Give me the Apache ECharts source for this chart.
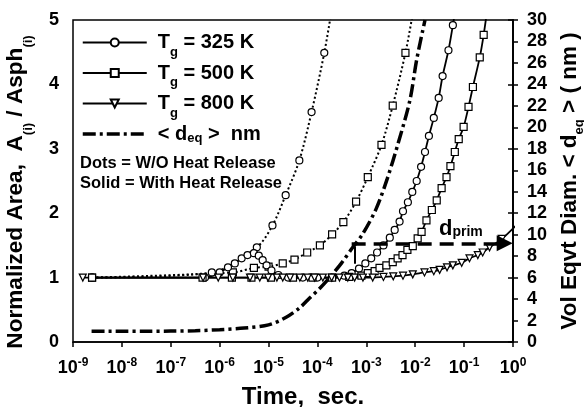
<!DOCTYPE html>
<html>
<head>
<meta charset="utf-8">
<script src="https://cdn.jsdelivr.net/npm/echarts@6/dist/echarts.min.js"></script>
<style>
  html, body { margin: 0; padding: 0; background: #fff; }
  #chart { width: 584px; height: 407px; }
</style>
</head>
<body>
<div id="chart"></div>
<script>
// x values are log10(time / s), y values are A(i)/Asph(i)
const tg325Solid = [
  [-8.61, 1.0], [-6.3, 1.0], [-6.0, 1.08], [-5.83, 1.16], [-5.69, 1.22], [-5.55, 1.3], [-5.43, 1.35],
  [-5.3, 1.38], [-5.2, 1.34], [-5.12, 1.27], [-5.04, 1.19], [-4.94, 1.11], [-4.8, 1.04], [-4.6, 1.0],
  [-4.3, 1.0], [-4.0, 1.0], [-3.7, 1.0], [-3.45, 1.03], [-3.3, 1.07], [-3.15, 1.14], [-3.02, 1.22],
  [-2.9, 1.3], [-2.78, 1.39], [-2.65, 1.5], [-2.52, 1.62], [-2.42, 1.74], [-2.32, 1.87], [-2.25, 2.03],
  [-2.15, 2.17], [-2.06, 2.33], [-1.97, 2.5], [-1.88, 2.72], [-1.8, 2.95], [-1.72, 3.2], [-1.62, 3.48],
  [-1.52, 3.79], [-1.44, 4.13], [-1.32, 4.53], [-1.23, 4.92], [-1.15, 5.3]
]
const tg500Solid = [
  [-8.61, 1.0], [-6.35, 1.0], [-5.75, 1.0], [-5.35, 1.0], [-4.95, 1.0], [-4.5, 1.0], [-4.1, 1.0],
  [-3.7, 1.0], [-3.35, 1.01], [-3.1, 1.03], [-2.97, 1.07], [-2.83, 1.1], [-2.73, 1.15], [-2.59, 1.19],
  [-2.46, 1.24], [-2.36, 1.3], [-2.26, 1.35], [-2.16, 1.43], [-2.05, 1.49], [-1.95, 1.61], [-1.87, 1.71],
  [-1.77, 1.89], [-1.66, 2.05], [-1.56, 2.2], [-1.46, 2.39], [-1.36, 2.56], [-1.28, 2.73], [-1.19, 2.95],
  [-1.11, 3.15], [-1.01, 3.34], [-0.91, 3.65], [-0.82, 3.96], [-0.68, 4.42], [-0.6, 4.77], [-0.52, 5.2]
]
const tg800Solid = [
  [-8.8, 1.0], [-6.34, 1.0], [-6.03, 1.0], [-5.73, 1.0], [-5.38, 1.0], [-5.18, 1.0], [-5.01, 1.0],
  [-4.83, 1.0], [-4.71, 1.0], [-4.56, 1.0], [-4.36, 1.0], [-4.2, 1.0], [-4.06, 1.0], [-3.89, 1.0],
  [-3.71, 1.0], [-3.55, 1.0], [-3.38, 1.0], [-3.24, 1.0], [-3.07, 1.0], [-2.87, 1.0], [-2.65, 1.01],
  [-2.45, 1.02], [-2.25, 1.03], [-2.05, 1.05], [-1.81, 1.08], [-1.62, 1.1], [-1.5, 1.12], [-1.35, 1.16],
  [-1.23, 1.19], [-1.05, 1.23], [-0.89, 1.3], [-0.72, 1.35], [-0.62, 1.39], [-0.48, 1.47], [-0.23, 1.6],
  [0.1, 1.84]
]
// without heat release (dotted)
const tg325Dots = [
  [-8.61, 1.0], [-6.16, 1.08], [-5.24, 1.47], [-4.92, 1.81], [-4.65, 2.28], [-4.37, 2.82],
  [-4.12, 3.57], [-3.86, 4.49], [-3.7, 5.2]
]
const tg500Dots = [
  [-8.61, 1.0], [-5.73, 1.08], [-5.3, 1.15], [-5.0, 1.17], [-4.71, 1.22], [-4.47, 1.28], [-4.21, 1.39],
  [-3.95, 1.5], [-3.7, 1.67], [-3.47, 1.86], [-3.21, 2.18], [-2.97, 2.56], [-2.69, 3.06], [-2.46, 3.67],
  [-2.2, 4.49], [-2.05, 5.1]
]
// <d_eq> in nm, right axis
const deqNm = [
  [-8.62, 1.0], [-8, 1.0], [-7.5, 1.0], [-7, 1.02], [-6.5, 1.05], [-6, 1.15], [-5.5, 1.3], [-5, 1.6],
  [-4.64, 2.3], [-4.36, 3.2], [-4.16, 4.1], [-3.95, 5.0], [-3.75, 6.0], [-3.5, 7.4], [-3.28, 8.8],
  [-3.07, 10.1], [-2.8, 12.4], [-2.58, 15.1], [-2.35, 18.5], [-2.11, 22.5], [-1.97, 26.3], [-1.8, 30]
]
// d_prim arrow (nm) and its marker
const dprimNm = 9.2
const dprimFrom = -3.3
const dprimTo = -0.17
const dprimTick = [-3.24, 7.3, 8.9]

const legendNames = ['T325', 'T500', 'T800', 'deq']
const legendText = {
  T325: '{n|T}{g|g}{n| = 325 K}',
  T500: '{n|T}{g|g}{n| = 500 K}',
  T800: '{n|T}{g|g}{n| = 800 K}',
  deq: '{n|< d}{e|eq}{n| >  nm}'
}

const FONT = '"Liberation Sans", Arial, sans-serif'
const BLACK = '#000'

var chart = echarts.init(document.getElementById('chart'))

var axisLine = { show: true, lineStyle: { color: BLACK, width: 1.5 } }
var axisTick = { show: true, inside: false, length: 5, lineStyle: { color: BLACK, width: 1.5 } }
var tickFont = { fontFamily: FONT, fontWeight: 'bold', fontSize: 18, color: BLACK }

function nameRich(size, drop) {
  return {
    n: { fontFamily: FONT, fontWeight: 'bold', fontSize: size, lineHeight: size, padding: [0, 0, 11, 0], verticalAlign: 'top', color: BLACK },
    s: { fontFamily: FONT, fontWeight: 'bold', fontSize: 13, lineHeight: 13, padding: [drop, 0, size - 2 - drop, 0], verticalAlign: 'top', color: BLACK }
  }
}

function solid(name, data, symbol, rotate) {
  return {
    name: name,
    type: 'line',
    data: data,
    smooth: 0.3,
    symbol: symbol,
    symbolSize: 7,
    symbolRotate: rotate || 0,
    showSymbol: true,
    itemStyle: { color: '#fff', borderColor: BLACK, borderWidth: 1.2 },
    lineStyle: { color: BLACK, width: 1.8 }
  }
}

function dotted(name, data, symbol) {
  return {
    name: name,
    type: 'line',
    data: data,
    smooth: 0.3,
    symbol: symbol,
    symbolSize: 7,
    showSymbol: true,
    itemStyle: { color: '#fff', borderColor: BLACK, borderWidth: 1.2 },
    lineStyle: { color: BLACK, width: 2, type: [2, 2.5] }
  }
}

chart.setOption({
  animation: false,
  backgroundColor: '#fff',
  grid: {
    left: 73, right: 71, top: 20, bottom: 65,
    outerBoundsMode: 'none',
    show: true, borderColor: BLACK, borderWidth: 1.5
  },
  legend: {
    data: legendNames,
    left: 81,
    top: 32.5,
    padding: 0,
    orient: 'vertical',
    itemWidth: 64,
    itemHeight: 10,
    itemGap: 4.5,
    selectedMode: false,
    lineStyle: { width: 'inherit' },
    formatter: function (name) { return legendText[name] },
    textStyle: {
      padding: [0, 0, 0, 6],
      rich: {
        n: { fontFamily: FONT, fontWeight: 'bold', fontSize: 20, lineHeight: 20, padding: [0, 0, 6, 0], verticalAlign: 'top', color: BLACK },
        g: { fontFamily: FONT, fontWeight: 'bold', fontSize: 13, lineHeight: 13, padding: [13, 0, 0, 0], verticalAlign: 'top', color: BLACK },
        e: { fontFamily: FONT, fontWeight: 'bold', fontSize: 13, lineHeight: 13, padding: [8, 0, 5, 0], verticalAlign: 'top', color: BLACK }
      }
    }
  },
  xAxis: {
    type: 'value',
    min: -9,
    max: 0,
    interval: 1,
    name: 'Time,  sec.',
    nameLocation: 'middle',
    nameGap: 43,
    nameTextStyle: { fontFamily: FONT, fontWeight: 'bold', fontSize: 24, color: BLACK, padding: [0, 0, 0, 20] },
    axisLine: axisLine,
    axisTick: axisTick,
    splitLine: { show: false },
    axisLabel: {
      margin: 15,
      formatter: function (v) { return '{b|10}{p|' + v + '}' },
      rich: {
        b: { fontFamily: FONT, fontWeight: 'bold', fontSize: 18, lineHeight: 20, verticalAlign: 'bottom', color: BLACK },
        p: { fontFamily: FONT, fontWeight: 'bold', fontSize: 12, lineHeight: 12, verticalAlign: 'top', color: BLACK }
      }
    }
  },
  yAxis: [
    {
      type: 'value',
      position: 'left',
      min: 0,
      max: 5,
      interval: 1,
      name: '{n|Normalized Area,  A}{s|(i)}{n| / Asph}{s|(i)}',
      nameLocation: 'middle',
      nameRotate: 90,
      nameGap: 27,
      nameTextStyle: { rich: nameRich(22.6, 18), padding: [0, 22, 0, 0] },
      axisLine: axisLine,
      axisTick: axisTick,
      axisLabel: Object.assign({ margin: 14 }, tickFont),
      splitLine: { show: false }
    },
    {
      type: 'value',
      position: 'right',
      min: 0,
      max: 30,
      interval: 2,
      name: '{n|Vol Eqvt Diam. < d}{s|eq}{n| > ( nm )}',
      nameLocation: 'middle',
      nameRotate: 90,
      nameGap: 40,
      nameTextStyle: { rich: nameRich(22.5, 15) },
      axisLine: axisLine,
      axisTick: axisTick,
      axisLabel: Object.assign({ margin: 14 }, tickFont),
      splitLine: { show: false }
    }
  ],
  graphic: [
    { type: 'text', left: 80, top: 155, style: { text: 'Dots = W/O Heat Release', font: 'bold 16.5px ' + FONT, fill: BLACK } },
    { type: 'text', left: 80, top: 174.5, style: { text: 'Solid = With Heat Release', font: 'bold 16.5px ' + FONT, fill: BLACK } },
    {
      type: 'text', left: 439, top: 218,
      style: {
        text: '{n|d}{s|prim}',
        rich: {
          n: { fontFamily: FONT, fontWeight: 'bold', fontSize: 22, lineHeight: 22, verticalAlign: 'bottom', fill: BLACK },
          s: { fontFamily: FONT, fontWeight: 'bold', fontSize: 14, lineHeight: 14, padding: [0, 0, 1, 0], verticalAlign: 'bottom', fill: BLACK }
        }
      }
    }
  ],
  series: [
    dotted('T325 dots', tg325Dots, 'circle'),
    dotted('T500 dots', tg500Dots, 'rect'),
    solid('T325', tg325Solid, 'circle'),
    solid('T500', tg500Solid, 'rect'),
    solid('T800', tg800Solid, 'triangle', 180),
    {
      name: 'deq',
      type: 'line',
      yAxisIndex: 1,
      data: deqNm,
      smooth: 0.3,
      symbol: 'none',
      itemStyle: { color: 'transparent', borderWidth: 0 },
      lineStyle: { color: BLACK, width: 3.5, type: [13, 4, 3, 4] },
      markLine: {
        silent: true,
        symbol: 'none',
        label: { show: false },
        data: [
          [
            { coord: [dprimFrom, dprimNm], lineStyle: { color: BLACK, width: 3.5, type: [14, 8] } },
            { coord: [dprimTo, dprimNm], symbol: 'triangle', symbolSize: [16, 16], lineStyle: { color: BLACK, width: 3.5, type: [14, 8] } }
          ],
          [
            { coord: [dprimTick[0], dprimTick[1]], lineStyle: { color: BLACK, width: 2, type: 'solid' } },
            { coord: [dprimTick[0], dprimTick[2]], lineStyle: { color: BLACK, width: 2, type: 'solid' } }
          ]
        ]
      }
    }
  ]
})
</script>
</body>
</html>
